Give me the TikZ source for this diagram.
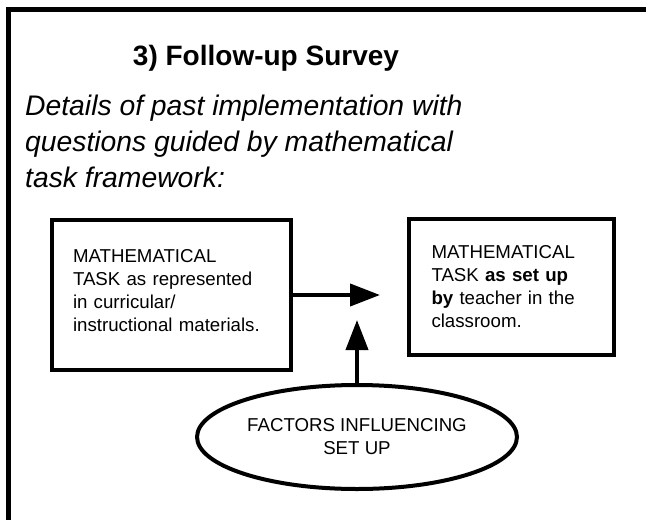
\documentclass[tikz,border=0pt]{standalone}
\usepackage{fontspec}
\setmainfont{Liberation Sans}
\usetikzlibrary{positioning, arrows.meta, shapes.geometric}

\begin{document}
\begin{tikzpicture}[x=1pt, y=-1pt, >={Triangle[length=30pt, width=22pt]},
        heading/.style = {font=\bfseries\fontsize{28}{34}\selectfont},
        intro/.style = {font=\itshape\fontsize{28.3}{36}\selectfont, align=left, inner sep=0pt},
        block/.style = {draw, rectangle, line width=4pt, font=\fontsize{18.67}{23}\selectfont, align=left},
        factor/.style = {draw, ellipse, line width=4pt, minimum width=276pt, minimum height=104pt,
                font=\fontsize{18.67}{23}\selectfont, align=center},
        link/.style = {->, line width=4pt},
        ]
        \clip (0,0) rectangle (646,520);
        % outer frame, runs on past the right and bottom edge
        \draw [line width=4.5pt] (8.5,540) |- (670,9.5);

        \node [heading, anchor=base] (title) at (266,65) {3) Follow-up Survey};
        \node [intro, anchor=north west] (intro) at (25,95)
                {Details of past implementation with\\questions guided by mathematical\\task framework:};

        % text sits a little high in the left box
        \node [block, minimum width=239pt, minimum height=150pt, text width=197pt, text height=5pt]
                (given) at (171.5,295) {MATHEMATICAL\\TASK as represented\\in curricular/\\instructional materials.};
        \node [block, minimum width=205pt, minimum height=136pt, text width=160pt,
                right=114pt of given, yshift=8pt]
                (setup) {MATHEMATICAL\\TASK \textbf{as set up}\\\textbf{by} teacher in the\\classroom.};
        \node [factor] (factors) at (357,437) {FACTORS INFLUENCING\\SET UP};

        \coordinate [right=87pt of given.east] (gap);
        \coordinate [above=63pt of factors.north] (rise);

        \draw [link] (given) -- (gap);
        \draw [link] (factors) -- (rise);
\end{tikzpicture}
\end{document}
